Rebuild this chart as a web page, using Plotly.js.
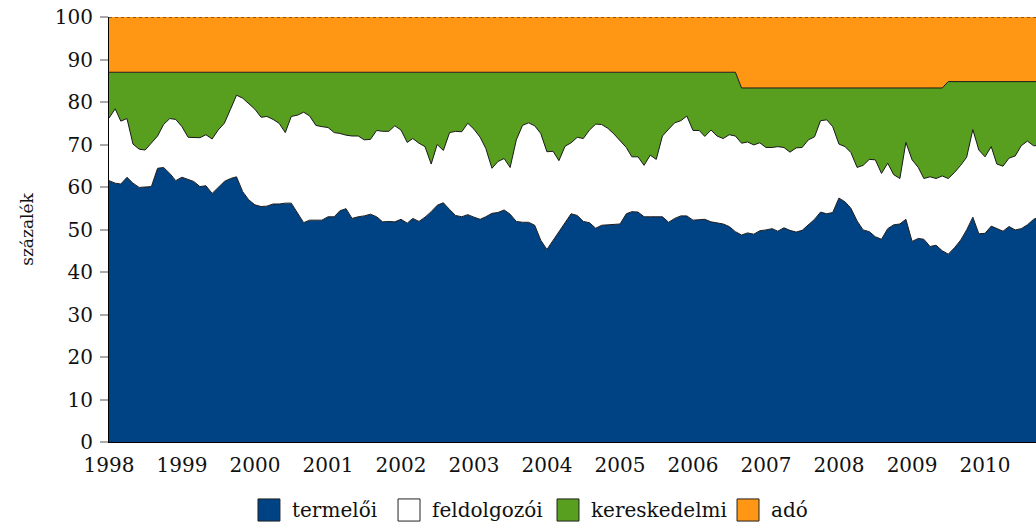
<!DOCTYPE html>
<html>
<head>
<meta charset="utf-8">
<script src="https://cdn.plot.ly/plotly-3.0.1.min.js"></script>
<style>html,body{margin:0;padding:0;background:#fff}#chart{width:1036px;height:526px}</style>
</head>
<body>
<div id="chart"></div>
<script>
// Monthly data, January 1998 onwards (shares in percent)
const startYear = 1998;
const seriesNames = ["termelői", "feldolgozói", "kereskedelmi", "adó"];

const termeloi = [
61.5,60.9,60.7,62.3,60.9,59.9,60.0,60.1,64.4,64.6,63.2,61.5,
62.3,61.8,61.3,60.1,60.3,58.5,59.9,61.3,62.0,62.4,58.9,57.0,
55.8,55.4,55.5,56.0,56.0,56.2,56.2,53.8,51.6,52.2,52.2,52.2,
53.0,53.0,54.4,54.9,52.6,53.0,53.2,53.6,53.0,51.8,51.9,51.8,
52.4,51.5,52.6,51.9,52.9,54.2,55.7,56.3,54.7,53.3,53.0,53.5,
52.9,52.4,53.0,53.8,54.0,54.6,53.6,51.9,51.7,51.7,51.0,47.5,
45.3,47.5,49.5,51.8,53.7,53.3,51.9,51.6,50.3,51.0,51.1,51.3,
51.3,53.7,54.2,54.1,53.0,53.0,53.0,53.0,51.7,52.6,53.2,53.2,
52.2,52.3,52.4,51.8,51.5,51.3,50.7,49.5,48.7,49.2,48.9,49.7,
49.9,50.2,49.6,50.4,49.8,49.4,49.8,51.0,52.4,54.1,53.7,54.0,
57.4,56.5,55.0,52.0,49.9,49.5,48.3,47.7,50.2,51.1,51.3,52.4,
47.2,47.9,47.7,46.0,46.3,45.0,44.2,45.7,47.5,49.9,52.9,49.0,
49.1,50.8,50.3,49.6,50.7,49.9,50.2,51.1,52.4,53.0
];
const feldolgozoi = [
14.7,17.5,14.8,13.8,9.2,9.0,8.7,10.2,7.6,10.1,12.9,14.4,
11.9,9.9,10.3,11.5,12.0,12.8,13.5,13.7,16.3,19.2,22.0,22.7,
22.5,21.0,21.1,19.9,19.0,16.6,20.4,23.1,26.0,24.5,22.3,22.0,
21.0,19.8,18.2,17.3,19.4,19.0,17.9,17.6,20.3,21.3,21.2,22.6,
21.0,19.0,18.8,18.4,16.6,11.2,14.3,12.3,18.1,19.8,20.0,21.5,
20.7,19.3,16.1,10.6,12.0,12.1,11.0,19.2,22.8,23.4,23.4,25.1,
23.0,20.9,16.7,17.8,16.7,18.4,19.5,21.8,24.5,23.7,22.7,21.2,
19.6,15.6,12.9,13.0,12.1,14.5,13.5,19.0,21.9,22.5,22.4,23.5,
21.1,21.0,19.5,21.6,20.5,20.1,21.6,22.5,21.6,21.4,21.0,20.7,
19.4,19.1,19.9,18.9,18.4,19.8,19.5,20.1,19.4,21.5,22.1,20.2,
12.7,13.0,13.1,12.6,15.2,17.0,18.1,15.5,15.4,11.8,10.7,18.1,
19.2,16.7,14.3,16.4,15.7,17.6,17.8,17.7,17.6,17.1,20.6,19.7,
18.0,18.7,15.1,15.3,16.1,17.4,19.5,19.7,17.3,16.8
];
const kereskedelmi = [
10.8,8.6,11.5,10.9,16.9,18.1,18.3,16.7,15.0,12.3,10.9,11.1,
12.8,15.3,15.4,15.4,14.7,15.7,13.6,12.0,8.7,5.4,6.1,7.3,
8.7,10.6,10.4,11.1,12.0,14.2,10.4,10.1,9.4,10.3,12.5,12.8,
13.0,14.2,14.4,14.8,15.0,15.0,15.9,15.8,13.7,13.9,13.9,12.6,
13.6,16.5,15.6,16.7,17.5,21.6,17.0,18.4,14.2,13.9,14.0,12.0,
13.4,15.3,17.9,22.6,21.0,20.3,22.4,15.9,12.5,11.9,12.6,14.4,
18.7,18.6,20.8,17.4,16.6,15.3,15.6,13.6,12.2,12.3,13.2,14.5,
16.1,17.7,19.9,19.9,21.9,19.5,20.5,15.0,13.4,11.9,11.4,10.3,
13.7,13.7,15.1,13.6,15.0,15.6,14.7,15.0,13.0,12.7,13.4,12.9,
14.0,14.0,13.8,14.0,15.1,14.1,14.0,12.2,11.5,7.7,7.5,9.1,
13.2,13.8,15.2,18.7,18.2,16.8,16.9,20.1,17.7,20.4,21.3,12.8,
16.9,18.7,21.3,20.9,21.3,20.7,22.8,21.4,19.7,17.8,11.3,16.1,
17.7,15.3,19.4,19.9,18.0,17.5,15.1,14.0,15.1,15.0
];
const ado = [
13,13,13,13,13,13,13,13,13,13,13,13,
13,13,13,13,13,13,13,13,13,13,13,13,
13,13,13,13,13,13,13,13,13,13,13,13,
13,13,13,13,13,13,13,13,13,13,13,13,
13,13,13,13,13,13,13,13,13,13,13,13,
13,13,13,13,13,13,13,13,13,13,13,13,
13,13,13,13,13,13,13,13,13,13,13,13,
13,13,13,13,13,13,13,13,13,13,13,13,
13,13,13,13,13,13,13,13,16.7,16.7,16.7,16.7,
16.7,16.7,16.7,16.7,16.7,16.7,16.7,16.7,16.7,16.7,16.7,16.7,
16.7,16.7,16.7,16.7,16.7,16.7,16.7,16.7,16.7,16.7,16.7,16.7,
16.7,16.7,16.7,16.7,16.7,16.7,15.2,15.2,15.2,15.2,15.2,15.2,
15.2,15.2,15.2,15.2,15.2,15.2,15.2,15.2,15.2,15.2
];
const yTicks = [0,10,20,30,40,50,60,70,80,90,100];
const xTickLabels = ["1998","1999","2000","2001","2002","2003","2004","2005","2006","2007","2008","2009","2010"];

// month dates
const months = termeloi.map((_, i) => {
  const y = startYear + Math.floor(i / 12);
  const m = (i % 12) + 1;
  return y + "-" + (m < 10 ? "0" + m : m) + "-01";
});

const colors = ["#004385", "#ffffff", "#589e1f", "#ff9614"];
const values = [termeloi, feldolgozoi, kereskedelmi, ado];

const traces = values.map((v, k) => ({
  type: "scatter",
  mode: "lines",
  x: months,
  y: v,
  name: seriesNames[k],
  stackgroup: "one",
  fillcolor: colors[k],
  line: {color: "#1a1a1a", width: 1, dash: k === 3 ? "3px,3px" : "solid", shape: "linear"},
  hoverinfo: "skip",
  showlegend: false
}));

const FAM = "DejaVu Serif";
const tickFont = {family: FAM, size: 20, color: "#111"};

// custom legend (square swatches), placed in paper coordinates below the plot
const legendSwatchX = [0.1607, 0.3118, 0.4833, 0.6775];
const swW = 0.0237, swTop = -0.134, swBot = -0.186, legY = -0.161;
const shapes = seriesNames.map((n, k) => ({
  type: "rect", xref: "paper", yref: "paper",
  x0: legendSwatchX[k], x1: legendSwatchX[k] + swW, y0: swBot, y1: swTop,
  fillcolor: colors[k], line: {color: "#222", width: 1}
}));
const annotations = seriesNames.map((n, k) => ({
  xref: "paper", yref: "paper", x: legendSwatchX[k] + swW + 0.0105, y: legY,
  xanchor: "left", yanchor: "middle", text: n, showarrow: false,
  font: {family: FAM, size: 20, color: "#111"}
}));

const layout = {
  width: 1036, height: 526,
  margin: {l: 109, r: 0, t: 17, b: 84},
  paper_bgcolor: "#fff", plot_bgcolor: "#fff",
  font: tickFont,
  showlegend: false,
  shapes: shapes,
  annotations: annotations,
  xaxis: {
    type: "date",
    range: ["1998-01-01", "2010-09-13"],
    tickvals: xTickLabels.map(s => s + "-01-01"),
    ticktext: xTickLabels,
    ticks: "", showgrid: false, zeroline: false,
    showline: true, linecolor: "#000", linewidth: 1,
    tickfont: tickFont, ticklabelstandoff: 5
  },
  yaxis: {
    range: [0, 100],
    tickvals: yTicks,
    ticks: "outside", ticklen: 8, tickcolor: "#aaa", tickwidth: 2,
    showgrid: false, zeroline: false,
    showline: true, linecolor: "#000", linewidth: 1,
    tickfont: tickFont, ticklabelstandoff: 3,
    title: {text: "százalék", font: {family: FAM, size: 17, color: "#111"}, standoff: 16}
  }
};

Plotly.newPlot("chart", traces, layout, {displayModeBar: false, staticPlot: true});
</script>
</body>
</html>
